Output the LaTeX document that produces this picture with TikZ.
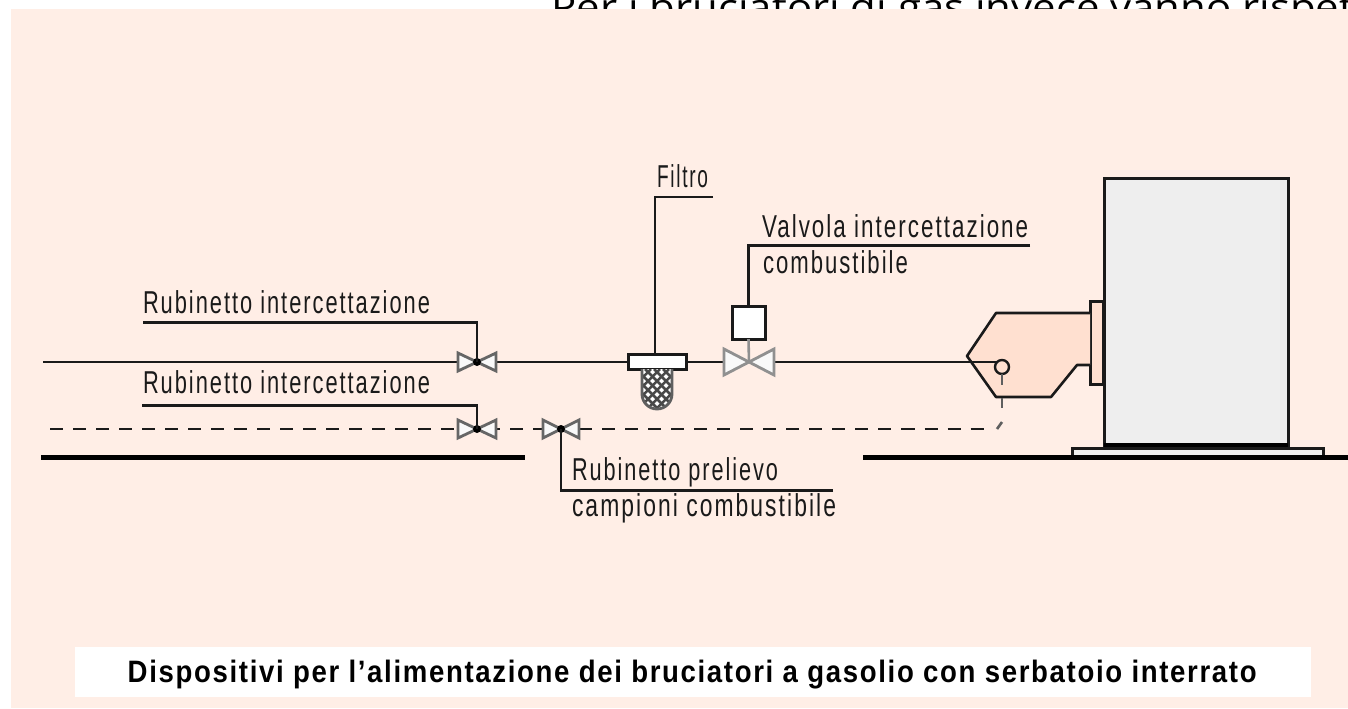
\documentclass[tikz,border=0pt]{standalone}
\usepackage{fontspec}
\usepackage{graphicx}
\setmainfont{Liberation Sans}
\newfontfamily\topfont{Open Sans}
\newfontfamily\cadfont[LetterSpace=9]{Liberation Sans}
\definecolor{panel}{HTML}{FFEEE6}
\definecolor{burner}{HTML}{FFE0D0}
\definecolor{casing}{HTML}{EEEEEE}
\definecolor{ink}{HTML}{1A1A1A}
\newcommand{\fitw}[2]{\resizebox{#1}{\height}{#2}}
\newcommand{\valve}[4][valvegrey]{%
  \draw[valveline,draw=#1] ([shift={(-#3,-#4)}]#2) -- ([shift={(-#3,#4)}]#2) -- (#2) -- cycle;
  \draw[valveline,draw=#1] ([shift={(#3,-#4)}]#2) -- ([shift={(#3,#4)}]#2) -- (#2) -- cycle;
}
\definecolor{valvegrey}{HTML}{666666}
\definecolor{valvelight}{HTML}{909090}
\tikzset{
  x=0.01cm,y=-0.01cm,
  wire/.style={draw=ink,line width=0.26mm},
  dashwire/.style={wire,dash pattern=on 1.3mm off 1mm},
  ground/.style={draw=black,line width=0.45mm},
  valveline/.style={fill=white!95!gray,line width=0.28mm,line join=miter},
  lab/.style={anchor=base west,inner sep=0pt,outer sep=0pt,font=\cadfont\fontsize{9}{10}\selectfont,text=ink},
  box/.style={draw=ink,fill=white,line width=0.3mm,inner sep=0pt,outer sep=0pt,rectangle},
}
\begin{document}
\begin{tikzpicture}
\useasboundingbox (0,0) rectangle (1348,708);
\fill[white] (0,0) rectangle (1348,708);
\begin{scope}
\clip (0,0) rectangle (1348,708);
\node[anchor=base west,inner sep=0pt,font=\topfont\fontsize{10.5}{13}\selectfont] (toptext) at (551,20) {\fitw{239pt}{Per i bruciatori di gas invece vanno rispetta}};
\end{scope}
\fill[panel] (11,9) rectangle (1348,708);
\node[fill=white,inner sep=0pt,outer sep=0pt,minimum width=123.5mm,minimum height=5mm,anchor=north west] (capbox) at (75,647) {};
\node[anchor=base west,inner sep=0pt,font=\bfseries\addfontfeature{LetterSpace=6}\fontsize{8.8}{10}\selectfont] (caption) at (127,682) {\fitw{321pt}{Dispositivi per l’alimentazione dei bruciatori a gasolio con serbatoio interrato}};

% casing and burner
\node[box,fill=casing,minimum width=18.4mm,minimum height=26.7mm,anchor=north west] (casing) at (1104,178) {};
\draw[draw=black,line width=0.42mm] (casing.south west) -- (casing.south east);
\node[box,fill=casing,minimum width=25.1mm,minimum height=0.8mm,anchor=north west] (base) at (1072,448) {};
\node[box,fill=burner,minimum width=1.35mm,minimum height=8.3mm,anchor=north west] (flange) at (1090,301) {};
\draw[wire,fill=burner,line join=round] (1090,313) -- (996,313) -- (967,356) -- (996,397) -- (1051,397) -- (1077,365) -- (1090,365);

% ground
\coordinate (g1) at (41,457.5); \coordinate (g2) at (525,457.5);
\coordinate (g3) at (863,457.5); \coordinate (g4) at (1348,457.5);
\draw[ground] (g1) -- (g2);
\draw[ground] (g3) -- (g4);

% valves and devices
\coordinate (v1) at (477,362);
\coordinate (v2) at (477,429);
\coordinate (v3) at (561,429);
\coordinate (v4) at (749,362);
\coordinate (mainstart) at (43,362);
\coordinate (dashstart) at (50,429);
\coordinate (dashend) at (985,429);
\coordinate (dashbend) at (997,429);
\coordinate (filtertop) at (655,354);
\node[box,minimum width=5.8mm,minimum height=1.5mm,anchor=north west] (filter) at (628,354.5) {};
\node[box,minimum width=3.3mm,minimum height=3.3mm,anchor=north west] (actuator) at (732,306) {};
\node[draw=ink,fill=burner,circle,line width=0.24mm,minimum size=1.4mm,inner sep=0pt,outer sep=0pt] (bulb) at (1002,367) {};

\draw[wire] (mainstart) -- (v1);
\draw[wire] (v1) -- (filter.west |- v1);
\draw[wire] (filter.east |- v1) -- (v4);
\draw[wire] (v4) -- (bulb.north west |- v4);
\draw[dashwire] (dashstart) -- (v2) -- (v3) -- (dashend);
\coordinate (stub2) at (1002,385);
\coordinate (stub3) at (1002,398); \coordinate (stub4) at (1002,408);
\coordinate (stub5) at (1002,422);
\draw[wire,draw=ink!70] (bulb.south) -- (stub2);
\draw[wire,draw=ink!70] (stub3) -- (stub4);
\draw[wire,draw=ink!70] (stub5) -- (dashbend);

\valve{v1}{19}{9}
\valve{v2}{19}{9}
\valve{v3}{18}{9}
\draw[wire,draw=valvelight] (actuator.south) -- (v4);
\valve[valvelight]{v4}{25}{13}
\fill[black] (v1) circle (4);
\fill[black] (v2) circle (4);
\fill[black] (v3) circle (4);

% filter mesh
\begin{scope}
\clip (642,369) -- (672,369) -- (672,394) arc (0:180:15) -- cycle;
\fill[white] (640,367) rectangle (674,412);
\foreach \k in {-72,-63,...,72} {
  \draw[draw=ink!80,line width=0.25mm] (657+\k-30,369) -- (657+\k+30,429);
  \draw[draw=ink!80,line width=0.25mm] (657+\k+30,369) -- (657+\k-30,429);
}
\end{scope}
\draw[draw=ink!70,line width=0.28mm] (642,369) -- (642,394) arc (180:0:15) -- (672,369);

% leaders
\coordinate (l1) at (143,322.5);
\coordinate (l2) at (142,405.5);
\coordinate (l3) at (833,490.5);
\coordinate (l4) at (713,197);
\coordinate (l5) at (1030,245.5);
\draw[wire] (l1) -| (v1);
\draw[wire] (l2) -| (v2);
\draw[wire] (l3) -| (v3);
\draw[wire] (l4) -| (filtertop);
\draw[wire] (l5) -| (actuator.north);

% labels
\node[lab] (t1) at (143,313) {\fitw{81.6pt}{Rubinetto intercettazione}};
\node[lab] (t2) at (143,393) {\fitw{81.6pt}{Rubinetto intercettazione}};
\node[lab] (t3) at (657,187) {\fitw{14.5pt}{Filtro}};
\node[lab] (t4) at (762,237) {\fitw{75.7pt}{Valvola intercettazione}};
\node[lab] (t5) at (763,273) {\fitw{41.2pt}{combustibile}};
\node[lab] (t6) at (572,480) {\fitw{58.6pt}{Rubinetto prelievo}};
\node[lab] (t7) at (572,516) {\fitw{75.1pt}{campioni combustibile}};
\end{tikzpicture}
\end{document}
